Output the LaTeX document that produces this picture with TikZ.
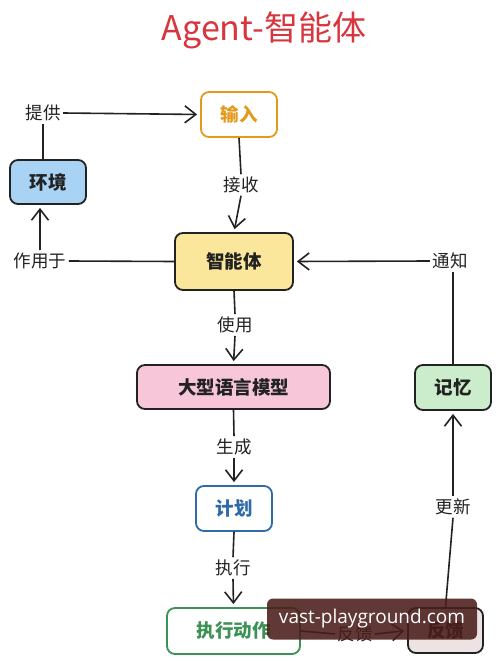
\documentclass[tikz,border=0pt]{standalone}
\usepackage{fontspec}
\setmainfont{Noto Sans CJK SC}
\newfontfamily\wmfont{Open Sans}
\usetikzlibrary{arrows.meta}
\definecolor{titlered}{HTML}{D8363E}
\definecolor{ink}{HTML}{222222}
\definecolor{orangeb}{HTML}{E39A1C}
\definecolor{envfill}{HTML}{A9D3F5}
\definecolor{agentfill}{HTML}{FAE79C}
\definecolor{llmfill}{HTML}{F7C6D9}
\definecolor{memfill}{HTML}{CBEDCB}
\definecolor{planblue}{HTML}{2E6BA8}
\definecolor{actgreen}{HTML}{3C9254}
\definecolor{fbfill}{HTML}{EDE3E3}
\definecolor{wmbg}{HTML}{4A1E1B}
\tikzset{
  box/.style={draw=ink, line width=1.8pt, rounded corners=8pt, align=center, font=\fontsize{18.5}{20}\selectfont\bfseries, text=ink},
  lbl/.style={inner sep=2.5pt, font=\fontsize{17.5}{19}\selectfont, text=ink},
  conn/.style={draw=ink, line width=1.6pt},
  arr/.style={conn, -{Straight Barb[length=11pt,width=17pt,line width=1.6pt]}, shorten >=3pt},
}
\begin{document}
\begin{tikzpicture}[x=1pt,y=-1pt]
\useasboundingbox (0,0) rectangle (500,663);
\fill[white] (0,0) rectangle (500,663);
% title
\node (title) at (264,30) {\fontsize{34}{38}\selectfont\color{titlered}Agent-智能体};
% boxes
\node[box, draw=orangeb, text=orangeb, fill=white, minimum width=76pt, minimum height=45pt] (inp) at (239,114.5) {输入};
\node[box, fill=envfill, minimum width=76pt, minimum height=44pt] (env) at (48,182) {环境};
\node[box, fill=agentfill, minimum width=118pt, minimum height=57pt] (agent) at (234,261.5) {智能体};
\node[box, fill=llmfill, minimum width=193pt, minimum height=44pt] (llm) at (233.5,387) {大型语言模型};
\node[box, fill=memfill, minimum width=76pt, minimum height=45pt] (mem) at (453,387.5) {记忆};
\node[box, draw=planblue, text=planblue, fill=white, minimum width=76pt, minimum height=45pt] (plan) at (234,508.5) {计划};
\node[box, draw=actgreen, text=actgreen, fill=white, minimum width=133pt, minimum height=46pt] (act) at (233.5,631) {执行动作};
\node[box, fill=fbfill, minimum width=75pt, minimum height=45pt] (fb) at (445.5,630.5) {反馈};
% labels
\node[lbl] (tigong) at (43,113) {提供};
\node[lbl] (zuoyong) at (40,261) {作用于};
\node[lbl] (jieshou) at (241,185) {接收};
\node[lbl] (tongzhi) at (450,261) {通知};
\node[lbl] (shiyong) at (235,325) {使用};
\node[lbl] (shengcheng) at (234,447) {生成};
\node[lbl] (zhixing) at (233,568) {执行};
\node[lbl] (fankui) at (355,634) {反馈};
\node[lbl] (gengxin) at (453,507) {更新};
% connectors
\draw[arr] (tigong.east) -- (inp.west);
\draw[conn] (tigong.south) -- (tigong.south |- env.north);
\draw[conn] (agent.west) -- (zuoyong.east);
\draw[arr] (zuoyong.north) -- (zuoyong.north |- env.south);
\draw[conn] (inp.south) -- (jieshou.north);
\draw[arr] (jieshou.south) -- (agent.north);
\draw[arr] (tongzhi.west) -- (agent.east);
\draw[conn] (mem.north) -- (mem.north |- tongzhi.south);
\draw[conn] (agent.south) -- (shiyong.north);
\draw[arr] (shiyong.south) -- (llm.north);
\draw[conn] (llm.south) -- (shengcheng.north);
\draw[arr] (shengcheng.south) -- (plan.north);
\draw[conn] (plan.south) -- (zhixing.north);
\draw[arr] (zhixing.south) -- (act.north);
\draw[conn] (act.east) -- (fankui.west);
\draw[arr] (fankui.east) -- (fb.west);
\draw[conn] (fb.north) -- (gengxin.south);
\draw[arr] (gengxin.north) -- (mem.south);
% watermark
\node[fill=wmbg, fill opacity=0.88, text opacity=1, text=white, rounded corners=6pt, minimum width=210pt, minimum height=41pt, font=\wmfont\fontsize{19}{21}\selectfont] (wm) at (372,619) {vast-playground.com};
\end{tikzpicture}
\end{document}
